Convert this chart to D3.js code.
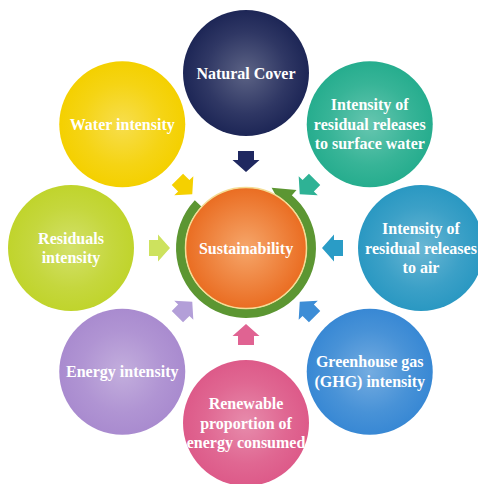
<!DOCTYPE html>
<html lang="en">
<head>
  <meta charset="UTF-8">
  <title>Sustainability wheel</title>
  <script src="https://cdn.jsdelivr.net/npm/d3@7/dist/d3.min.js"></script>
  <style>
    html, body { margin: 0; padding: 0; background: #fff; }
    .chart svg { display: block; }
    text { font-family: "Liberation Serif", "Times New Roman", serif; font-weight: bold; }
  </style>
</head>
<body>
<div class="chart"></div>
<script>
// hub label and the eight factors, clockwise from the top
const hub = "Sustainability";
const factors = [
  ["Natural Cover"],
  ["Intensity of", "residual releases", "to surface water"],
  ["Intensity of", "residual releases", "to air"],
  ["Greenhouse gas", "(GHG) intensity"],
  ["Renewable", "proportion of", "energy consumed"],
  ["Energy intensity"],
  ["Residuals", "intensity"],
  ["Water intensity"]
];
// colours, one per factor
const palette = ["#1d2656", "#26ad8e", "#2a98c2", "#3888d4", "#dd5a89", "#a98bcf", "#c0d42c", "#f4d000"];
const arrowPalette = ["#1f2860", "#2eb295", "#2a9cc6", "#3d8dd6", "#e06392", "#b39fd8", "#cde25e", "#f5d000"];

const W = 478, H = 484;
const cx = 246, cy = 248;
const orbit = 175, bubbleR = 63;

const svg = d3.select('.chart').append('svg').attr('width', W).attr('height', H);
const defs = svg.append('defs');

const angle = d3.scaleLinear().domain([0, factors.length]).range([0, 2 * Math.PI]);
const deg = d3.scaleLinear().domain([0, factors.length]).range([0, 360]);

// radial gradients, lighter at the centre
palette.forEach((c, i) => {
  const g = defs.append('radialGradient').attr('id', 'g' + i).attr('cx', '50%').attr('cy', '50%').attr('r', '50%');
  g.append('stop').attr('offset', '0%').attr('stop-color', d3.interpolateRgb(c, '#fff')(i === 0 ? 0.28 : 0.3));
  g.append('stop').attr('offset', '65%').attr('stop-color', d3.interpolateRgb(c, '#fff')(0.08));
  g.append('stop').attr('offset', '100%').attr('stop-color', c);
});
const og = defs.append('radialGradient').attr('id', 'gHub');
og.append('stop').attr('offset', '0%').attr('stop-color', '#f6a66a');
og.append('stop').attr('offset', '100%').attr('stop-color', '#ea6d22');

const root = svg.append('g').attr('transform', `translate(${cx} ${cy})`);

// outer bubbles
const bubbles = root.selectAll('g.bubble').data(factors).join('g')
  .attr('class', 'bubble')
  .attr('transform', (d, i) => {
    const [x, y] = d3.pointRadial(angle(i), orbit);
    return `translate(${x} ${y})`;
  });
bubbles.append('circle').attr('r', bubbleR).attr('fill', (d, i) => `url(#g${i})`);
bubbles.append('text')
  .attr('text-anchor', 'middle')
  .attr('fill', '#fff')
  .attr('font-size', 16)
  .selectAll('tspan').data(d => d.map((t, k) => ({ t, k, n: d.length }))).join('tspan')
  .attr('x', 0)
  .attr('y', d => (d.k - (d.n - 1) / 2) * 19.5 + 5.5)
  .text(d => d.t);

// inward arrows
const arrowShape = [[-8, -97], [8, -97], [8, -88], [13.5, -88], [0, -76], [-13.5, -88], [-8, -88]];
root.selectAll('path.arrow').data(factors).join('path')
  .attr('class', 'arrow')
  .attr('d', d3.line()(arrowShape) + 'Z')
  .attr('fill', (d, i) => arrowPalette[i])
  .attr('transform', (d, i) => `rotate(${deg(i)})`);

// green circular arrow around the hub
const rad = a => a * Math.PI / 180;
root.append('path')
  .attr('d', d3.arc().innerRadius(61).outerRadius(70).startAngle(rad(40)).endAngle(rad(313))())
  .attr('fill', '#5c9632');
root.append('path')
  .attr('d', d3.line()([d3.pointRadial(rad(41), 55), d3.pointRadial(rad(41), 77), d3.pointRadial(rad(23), 65.5)]) + 'Z')
  .attr('fill', '#5c9632');

// hub
root.append('circle').attr('r', 60.5).attr('fill', 'url(#gHub)').attr('stroke', '#f4dc94').attr('stroke-width', 1.5);
root.append('text')
  .attr('text-anchor', 'middle').attr('y', 6)
  .attr('fill', '#fff').attr('font-size', 16)
  .text(hub);
</script>
</body>
</html>
